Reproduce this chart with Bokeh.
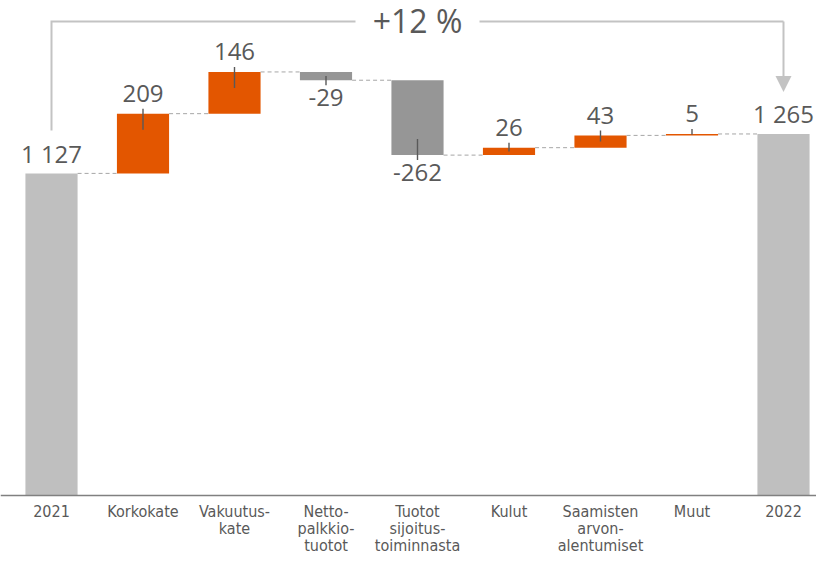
from bokeh.plotting import figure
from bokeh.models import Range1d, FixedTicker, ColumnDataSource, Arrow, NormalHead
from bokeh.core.properties import value
from bokeh.embed import file_html
from bokeh.resources import INLINE

# ---- data ----
categories = ["2021", "Korkokate", "Vakuutus-\nkate", "Netto-\npalkkio-\ntuotot",
              "Tuotot\nsijoitus-\ntoiminnasta", "Kulut", "Saamisten\narvon-\nalentumiset",
              "Muut", "2022"]
start_value = 1127
changes = [209, 146, -29, -262, 26, 43, 5]
end_value = 1265

# ---- style ----
ORANGE = "#E35600"
NEG = "#969696"
TOT = "#BFBFBF"
TEXT = "#595959"
CONN = "#A6A6A6"
BRACKET = "#C3C3C3"
NUM_FONT = "Open Sans"
CAT_FONT = "'Liberation Sans Narrow', 'DejaVu Sans Condensed', sans-serif"

W, H = 816, 558
AXIS_PX = 495                      # baseline position from top
BRACKET_PX = 21                    # bracket line position from top
k = 0.2858                         # px per value unit
YMAX = AXIS_PX / k
YMIN = -(H - AXIS_PX) / k
xs_px = 91.5                       # px per category
FIRST_PX = 51
X0 = -FIRST_PX / xs_px
X1 = X0 + W / xs_px
BAR_W = 0.57

def fmt(v):
    return f"{v:,}".replace(",", " ")

# waterfall geometry from data
n = len(categories)
xs = list(range(n))
bottoms, tops, colors = [0], [start_value], [TOT]
level = start_value
levels = [level]
for c in changes:
    new = level + c
    bottoms.append(min(level, new)); tops.append(max(level, new))
    colors.append(ORANGE if c >= 0 else NEG)
    level = new
    levels.append(level)
bottoms.append(0); tops.append(end_value); colors.append(TOT)
levels.append(end_value)

p = figure(width=W, height=H, output_backend="svg", toolbar_location=None,
           x_range=Range1d(X0, X1), y_range=Range1d(YMIN, YMAX),
           y_axis_location=None, min_border_left=0, min_border_right=0,
           min_border_top=0, min_border_bottom=0)
p.outline_line_color = None
p.grid.visible = False
p.background_fill_color = "white"
p.border_fill_color = "white"

src = ColumnDataSource(dict(x=xs, bottom=bottoms, top=tops, color=colors))
p.vbar(x="x", bottom="bottom", top="top", width=BAR_W, fill_color="color",
       line_color=None, source=src)

# dashed connectors
cx0 = [i + BAR_W / 2 for i in range(n - 1)]
cx1 = [i + 1 - BAR_W / 2 for i in range(n - 1)]
p.segment(x0=cx0, y0=levels[:-1], x1=cx1, y1=levels[:-1], line_color=CONN,
          line_width=1, line_dash="4 3")

# value labels
lab_x, lab_y, lab_t, lab_off = [], [], [], []
tick_x, tick_y0, tick_y1 = [], [], []
vals = [start_value] + changes + [end_value]
for i, v in enumerate(vals):
    is_delta = 0 < i < n - 1
    h = tops[i] - bottoms[i]
    if is_delta and v < 0:
        edge = bottoms[i]
        lab_y.append(edge); lab_off.append(17)
        tick_x.append(i); tick_y0.append(edge - 5 / k); tick_y1.append(edge + min(16 / k, h / 2))
    else:
        edge = tops[i]
        lab_y.append(edge); lab_off.append(-20)
        if is_delta:
            tick_x.append(i); tick_y0.append(edge + 5 / k); tick_y1.append(edge - min(16 / k, h / 2))
    lab_x.append(i); lab_t.append(fmt(v))

p.text(x=lab_x, y=lab_y, text=lab_t, y_offset=lab_off, text_align="center",
       text_baseline="alphabetic", text_font=value(NUM_FONT), text_font_size="24px",
       text_color=TEXT)
p.segment(x0=tick_x, y0=tick_y0, x1=tick_x, y1=tick_y1, line_color=TEXT, line_width=1.4)

# growth bracket
growth = round((end_value / start_value - 1) * 100)
mid = (0 + n - 1) / 2
y_top = YMAX - BRACKET_PX / k
gap = 62 / xs_px
p.line(x=[0, 0, mid - gap], y=[start_value + 43 / k, y_top, y_top], line_color=BRACKET,
       line_width=2, line_join="miter")
p.line(x=[mid + gap, n - 1], y=[y_top, y_top], line_color=BRACKET, line_width=2)
p.add_layout(Arrow(end=NormalHead(size=16, fill_color=BRACKET, line_color=BRACKET, line_width=0),
                   x_start=n - 1, y_start=y_top, x_end=n - 1, y_end=end_value + 42 / k,
                   line_color=BRACKET, line_width=2, line_join="miter"))
p.text(x=[mid], y=[y_top], text=[f"+{growth} %"], y_offset=[-1], text_align="center",
       text_baseline="alphabetic", text_font=value(NUM_FONT), text_font_size="32px",
       text_color=TEXT)

# x axis pinned at zero
ax = p.xaxis[0]
ax.fixed_location = 0
ax.ticker = FixedTicker(ticks=xs)
ax.major_label_overrides = {i: c for i, c in enumerate(categories)}
ax.axis_line_color = "#808080"
ax.axis_line_width = 1.5
ax.major_tick_line_color = None
ax.minor_tick_line_color = None
ax.major_tick_out = 0
ax.major_tick_in = 0
ax.major_label_standoff = 6
ax.major_label_text_font = CAT_FONT
ax.major_label_text_font_size = "16px"
ax.major_label_text_color = TEXT
ax.major_label_text_line_height = 0.9

open("out.html", "w").write(file_html(p, INLINE))
